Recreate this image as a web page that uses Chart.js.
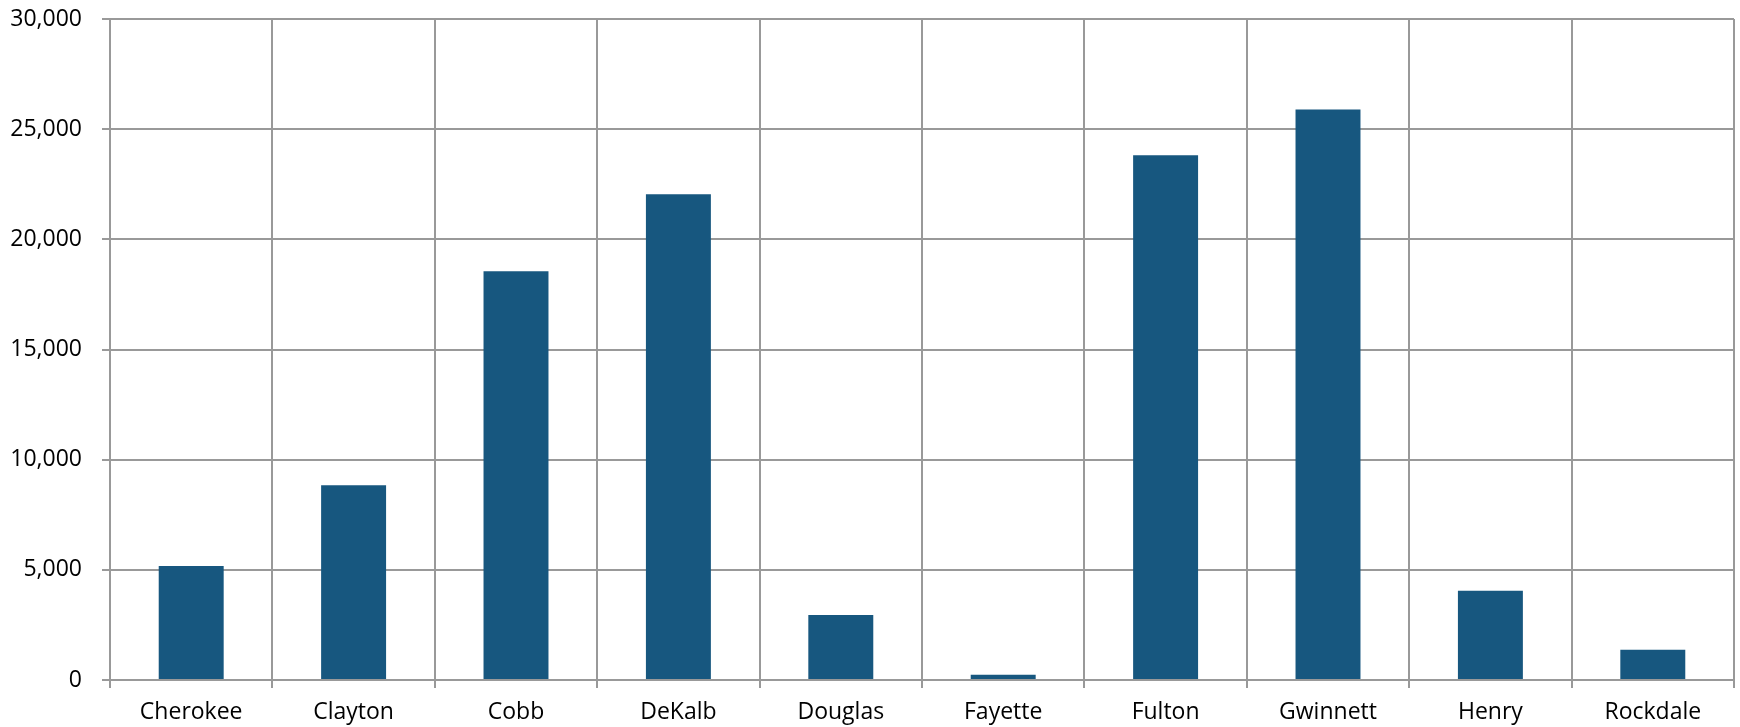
<!DOCTYPE html>
<html>
<head>
<meta charset="utf-8">
<script src="https://cdn.jsdelivr.net/npm/chart.js@4"></script>
<style>
  html, body { margin: 0; padding: 0; background: #fff; }
  #wrap { width: 1740px; height: 727px; }
</style>
</head>
<body>
<div id="wrap"><canvas id="countyChart" width="1740" height="727"></canvas></div>
<script>
// counties and their values
const counties = ['Cherokee', 'Clayton', 'Cobb', 'DeKalb', 'Douglas', 'Fayette', 'Fulton', 'Gwinnett', 'Henry', 'Rockdale'];
const countyValues = [5170, 8840, 18550, 22050, 2950, 240, 23820, 25890, 4050, 1370];
const yTicks = [0, 5000, 10000, 15000, 20000, 25000, 30000];

const barColor = '#17577f';
const gridColor = '#999999';
const textColor = '#000000';
const labelFont = { family: '"Open Sans"', size: 23 };

const ctx = document.getElementById('countyChart').getContext('2d');

const chart = new Chart(ctx, {
    type: 'bar',
    data: {
        labels: counties,
        datasets: [{
            data: countyValues,
            backgroundColor: barColor,
            borderWidth: 0,
            categoryPercentage: 1.0,
            barPercentage: 0.4
        }]
    },
    options: {
        responsive: false,
        animation: false,
        layout: {
            padding: { top: 19, right: 6, left: 0, bottom: 0 }
        },
        plugins: {
            legend: { display: false },
            tooltip: { enabled: false }
        },
        scales: {
            x: {
                grid: {
                    offset: true,
                    color: gridColor,
                    lineWidth: 2,
                    tickLength: 8
                },
                border: { color: gridColor, width: 2 },
                ticks: {
                    color: textColor,
                    padding: 11,
                    maxRotation: 0,
                    font: labelFont
                },
                afterFit: function(scale) {
                    scale.height = 47;
                }
            },
            y: {
                min: 0,
                max: 30000,
                afterBuildTicks: function(scale) {
                    scale.ticks = yTicks.map(v => ({ value: v }));
                },
                grid: {
                    color: gridColor,
                    lineWidth: 2,
                    tickLength: 8
                },
                border: { color: gridColor, width: 2 },
                ticks: {
                    color: textColor,
                    padding: 20,
                    font: labelFont,
                    callback: function(value) {
                        return Number(value).toLocaleString('en-US');
                    }
                },
                afterFit: function(scale) {
                    // fixed axis width; label padding would otherwise push the top down
                    scale.width = 110;
                    scale.paddingTop = 0;
                    scale.paddingBottom = 0;
                }
            }
        }
    }
});
</script>
</body>
</html>
